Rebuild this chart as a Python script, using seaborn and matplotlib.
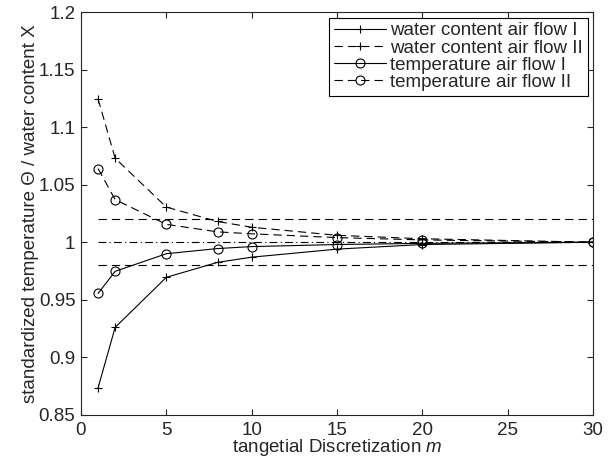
import numpy as np
import pandas as pd
import matplotlib
matplotlib.use('Agg')
import matplotlib.pyplot as plt
import seaborn as sb
from matplotlib.ticker import FuncFormatter

# Werte
m_values = [1, 2, 5, 8, 10, 15, 20, 30]
water_I = [0.8735, 0.926, 0.9695, 0.9825, 0.987, 0.994, 0.998, 1.0]
water_II = [1.1245, 1.073, 1.0305, 1.018, 1.013, 1.006, 1.003, 1.0]
temp_I = [0.9555, 0.9747, 0.990, 0.9945, 0.9962, 0.998, 0.999, 1.0]
temp_II = [1.064, 1.037, 1.0155, 1.009, 1.0073, 1.004, 1.002, 1.0]
series_names = ['water content air flow I', 'water content air flow II',
                'temperature air flow I', 'temperature air flow II']
ref_levels = [1.02, 1.0, 0.98]

sb.set_style('ticks')
plt.rcParams['font.family'] = ['Liberation Sans', 'DejaVu Sans']
plt.rcParams['mathtext.fontset'] = 'custom'
plt.rcParams['mathtext.it'] = 'Liberation Sans:italic'
plt.rcParams['mathtext.rm'] = 'Liberation Sans'

fs = 13.5
dash = (0, (7.5, 4.5))

fig = plt.figure(figsize=(6.09, 4.63), dpi=100)
ax = fig.add_axes([0.133, 0.104, 0.841, 0.870])

# Referenzlinien
ax.plot([m_values[0], m_values[-1]], [ref_levels[0]] * 2, color='black', lw=0.8, linestyle=dash)
ax.plot([m_values[0], m_values[-1]], [ref_levels[1]] * 2, color='black', lw=0.8,
        linestyle=(0, (7, 3, 1, 3)))
ax.plot([m_values[0], m_values[-1]], [ref_levels[2]] * 2, color='black', lw=0.8, linestyle=dash)

data = [water_I, water_II, temp_I, temp_II]
markers = ['+', '+', 'o', 'o']
styles = ['-', dash, '-', dash]
for name, vals, mk, ls in zip(series_names, data, markers, styles):
    sb.lineplot(x=m_values, y=vals, ax=ax, color='black', lw=0.8, linestyle=ls,
                marker=mk, markersize=6 if mk == '+' else 6.5, markeredgewidth=0.8,
                fillstyle='none', markeredgecolor='black', label=name)

ax.set_xlim(0, 30)
ax.set_ylim(0.85, 1.2)
ax.set_xticks(np.arange(0, 31, 5))
ax.set_yticks(np.arange(0.85, 1.2001, 0.05))
ax.yaxis.set_major_formatter(FuncFormatter(lambda v, p: '%g' % round(v, 2)))
ax.tick_params(direction='in', top=True, right=True, labelsize=fs, length=4, width=0.8)
ax.tick_params(axis='x', pad=5)
ax.tick_params(axis='y', pad=4)
for sp in ax.spines.values():
    sp.set_linewidth(0.8)

ax.set_xlabel('tangetial Discretization $m$', fontsize=fs, labelpad=-1)
ax.set_ylabel('standardized temperature \u0398 / water content X', fontsize=fs, labelpad=0)

leg = ax.legend(loc='upper right', fontsize=fs, frameon=True, fancybox=False,
                edgecolor='black', borderaxespad=0.3, handlelength=2.8,
                labelspacing=0.0, borderpad=0.25, handletextpad=0.2)
leg.get_frame().set_linewidth(0.8)
leg.get_frame().set_alpha(1)

plt.savefig('out.png', dpi=100)
